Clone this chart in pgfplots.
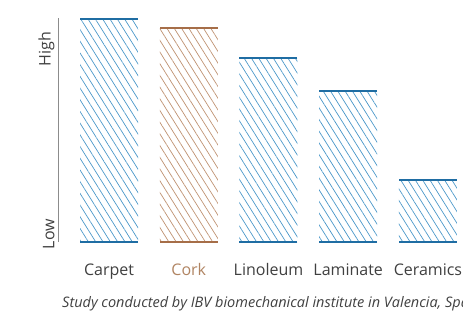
\documentclass[border=0pt]{standalone}
\usepackage{pgfplots}
\pgfplotsset{compat=1.18}
\usetikzlibrary{patterns.meta}
\usepackage{fontspec}
\setmainfont{Open Sans}
\definecolor{bluehatch}{HTML}{4A97C9}
\definecolor{blueedge}{HTML}{1F6DA3}
\definecolor{brownhatch}{HTML}{BF9272}
\definecolor{brownedge}{HTML}{A66E48}
\definecolor{corklab}{HTML}{B08462}
\definecolor{txt}{HTML}{404040}
\begin{document}
\begin{tikzpicture}[x=1bp,y=1bp]
\useasboundingbox (0,0) rectangle (463,311);
\begin{axis}[
  at={(58bp,69bp)}, anchor=south west,
  scale only axis, width=405bp, height=224bp,
  xmin=-0.64, xmax=4.44, ymin=0, ymax=224,
  clip=false,
  axis y line*=left, axis x line*=bottom,
  x axis line style={draw=none},
  y axis line style={draw=black!45, line width=0.8pt, -},
  major tick length=0pt,
  xtick={0,1,2,3,4},
  xticklabels={Carpet,\textcolor{corklab}{Cork},Linoleum,Laminate,Ceramics},
  xticklabel style={font=\fontsize{16bp}{18bp}\selectfont, text=txt, yshift=-18bp},
  ytick={12,197},
  yticklabels={Low,High},
  yticklabel style={rotate=90, anchor=south, font=\fontsize{16bp}{18bp}\selectfont, text=txt, xshift=-4bp},
]
\addplot[ybar, bar width=58bp, bar shift=0pt, draw=none,
  pattern={Lines[angle=-58, distance=6.2bp, line width=0.7bp]}, pattern color=bluehatch]
  coordinates {(0,223) (2,184) (3,151) (4,62)};
\addplot[ybar, bar width=58bp, bar shift=0pt, draw=none,
  pattern={Lines[angle=-58, distance=6.2bp, line width=0.7bp]}, pattern color=brownhatch]
  coordinates {(1,214)};
\addplot[only marks, mark=-, mark size=29bp, mark options={line width=1.6bp, draw=blueedge}]
  coordinates {(0,223) (2,184) (3,151) (4,62) (0,0) (2,0) (3,0) (4,0)};
\addplot[only marks, mark=-, mark size=29bp, mark options={line width=1.6bp, draw=brownedge}]
  coordinates {(1,214) (1,0)};
\end{axis}
\node[anchor=base west, inner sep=0, text=txt, font=\fontsize{14.5bp}{16bp}\selectfont\itshape] at (62,3.5) {Study conducted by IBV biomechanical institute in Valencia, Spain};
\end{tikzpicture}
\end{document}
